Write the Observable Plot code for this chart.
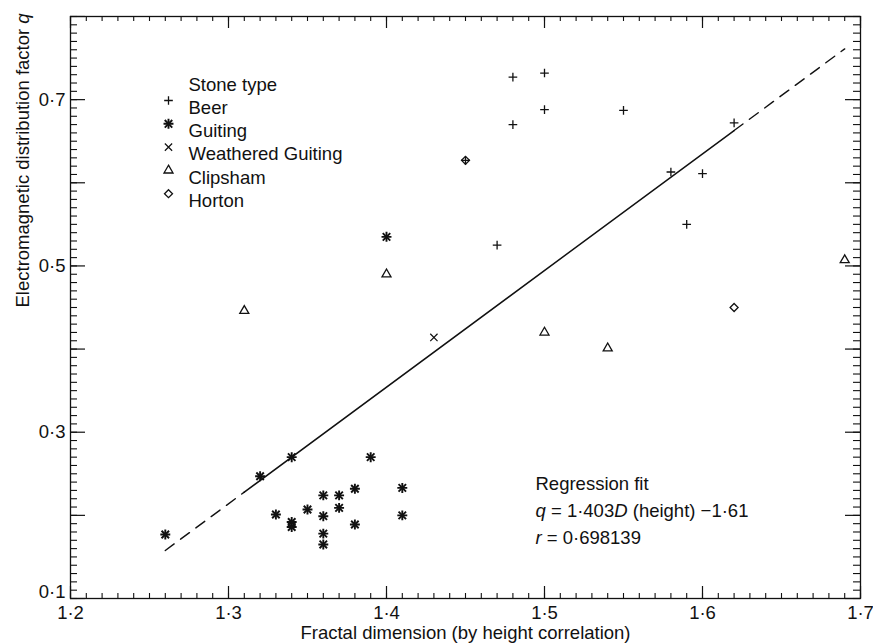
<!DOCTYPE html>
<html><head><meta charset="utf-8">
<script src="https://cdn.jsdelivr.net/npm/d3@7"></script>
<script src="https://cdn.jsdelivr.net/npm/@observablehq/plot@0.6"></script>
<style>body{margin:0;background:#fff} svg{display:block}</style>
</head><body><div id="chart"></div>
<script>
// ---- data ----
const beerD = [1.48, 1.50, 1.50, 1.48, 1.55, 1.45, 1.47, 1.58, 1.60, 1.59, 1.62];
const beerQ = [0.727, 0.732, 0.688, 0.670, 0.687, 0.627, 0.525, 0.613, 0.611, 0.550, 0.672];
const guitingD = [1.26, 1.32, 1.34, 1.33, 1.34, 1.34, 1.35, 1.36, 1.36, 1.36, 1.36, 1.37, 1.37, 1.38, 1.38, 1.39, 1.41, 1.41, 1.40];
const guitingQ = [0.177, 0.247, 0.270, 0.201, 0.192, 0.186, 0.207, 0.224, 0.199, 0.178, 0.165, 0.224, 0.209, 0.232, 0.189, 0.270, 0.233, 0.200, 0.535];
const weatheredD = [1.43];
const weatheredQ = [0.414];
const clipshamD = [1.31, 1.40, 1.50, 1.54, 1.69];
const clipshamQ = [0.446, 0.490, 0.420, 0.401, 0.507];
const hortonD = [1.45, 1.62];
const hortonQ = [0.627, 0.450];

const xTickLabels = [1.2, 1.3, 1.4, 1.5, 1.6, 1.7];
const yTickLabels = [0.1, 0.3, 0.5, 0.7];
const legendTitle = "Stone type";
const legendLabels = ["Beer", "Guiting", "Weathered Guiting", "Clipsham", "Horton"];
const regressionText = ["Regression fit", "q = 1·403D (height) −1·61", "r = 0·698139"];
const xLabel = "Fractal dimension (by height correlation)";
const yLabel = "Electromagnetic distribution factor q";

// regression fit q = 1.403 D - 1.61
const slope = 1.403, intercept = -1.61;
const fitDashedLow = [1.26, 1.31];
const fitSolid = [1.31, 1.62];
const fitDashedHigh = [1.62, 1.69];

// ---- layout ----
const W = 873, H = 643, mL = 70, mR = 13, mT = 16, mB = 45;
const pw = W - mL - mR, ph = H - mT - mB;
const ink = "#111";
const fmt = d => d.toFixed(1).replace(".", "·");
const minorX = d3.range(120, 171).map(i => i / 100);
const majorX = d3.range(12, 18).map(i => i / 10);
const minorY = d3.range(10, 81).map(i => i / 100);
const majorY = d3.range(1, 9).map(i => i / 10);

const rows = (D, Q) => D.map((d, i) => ({D: d, q: Q[i]}));
const beer = rows(beerD, beerQ);
const guiting = rows(guitingD, guitingQ);
const weathered = rows(weatheredD, weatheredQ);
const clipsham = rows(clipshamD, clipshamQ);
const horton = rows(hortonD, hortonQ);
const fitY = d => slope * d + intercept;

const sym = {
  Beer: [{symbol: "plus", r: 2.9, strokeWidth: 1.3}],
  Guiting: [{symbol: "plus", r: 3.3, strokeWidth: 1.9}, {symbol: "times", r: 3.5, strokeWidth: 1.9}],
  "Weathered Guiting": [{symbol: "times", r: 3.4, strokeWidth: 1.2}],
  Clipsham: [{symbol: "triangle2", r: 4.3, strokeWidth: 1.3}],
  Horton: [{symbol: "diamond2", r: 3.6, strokeWidth: 1.3}]
};
const seriesData = {Beer: beer, Guiting: guiting, "Weathered Guiting": weathered, Clipsham: clipsham, Horton: horton};

const marks = [];
// ticks (inward on all four sides)
marks.push(Plot.tickX(minorX, {x: d => d, insetTop: ph - 5, stroke: ink, strokeWidth: 1.1}));
marks.push(Plot.tickX(majorX, {x: d => d, insetTop: ph - 12, stroke: ink, strokeWidth: 1.2}));
marks.push(Plot.tickX(minorX, {x: d => d, insetBottom: ph - 5, stroke: ink, strokeWidth: 1.1}));
marks.push(Plot.tickX(majorX, {x: d => d, insetBottom: ph - 12, stroke: ink, strokeWidth: 1.2}));
marks.push(Plot.tickY(minorY, {y: d => d, insetRight: pw - 7, stroke: ink, strokeWidth: 1.1}));
marks.push(Plot.tickY(majorY, {y: d => d, insetRight: pw - 15, stroke: ink, strokeWidth: 1.2}));
marks.push(Plot.tickY(minorY, {y: d => d, insetLeft: pw - 7, stroke: ink, strokeWidth: 1.1}));
marks.push(Plot.tickY(majorY, {y: d => d, insetLeft: pw - 15, stroke: ink, strokeWidth: 1.2}));
marks.push(Plot.frame({stroke: ink, strokeWidth: 1.3}));
marks.push(Plot.axisX(xTickLabels, {tickSize: 0, tickPadding: 7, tickFormat: fmt, label: null, fill: ink}));
// the lowest y label sits slightly above the corner, as in the reference
marks.push(Plot.axisY(yTickLabels.slice(0, 1), {tickSize: 0, tickPadding: 5, tickFormat: fmt, label: null, fill: ink, dy: -6}));
marks.push(Plot.axisY(yTickLabels.slice(1), {tickSize: 0, tickPadding: 5, tickFormat: fmt, label: null, fill: ink}));

// regression line
marks.push(Plot.line(fitDashedLow, {x: d => d, y: fitY, stroke: ink, strokeWidth: 1.4, strokeDasharray: "11,8"}));
marks.push(Plot.line(fitSolid, {x: d => d, y: fitY, stroke: ink, strokeWidth: 1.5}));
marks.push(Plot.line(fitDashedHigh, {x: d => d, y: fitY, stroke: ink, strokeWidth: 1.4, strokeDasharray: "11,8"}));

// points
for (const name of legendLabels) {
  for (const s of sym[name]) {
    marks.push(Plot.dot(seriesData[name], {x: "D", y: "q", symbol: s.symbol, r: s.r, stroke: ink, strokeWidth: s.strokeWidth, fill: "none"}));
  }
}

// legend
marks.push(Plot.text([legendTitle], {frameAnchor: "top-left", dx: 118, dy: 61, text: d => d, textAnchor: "start", fill: ink}));
legendLabels.forEach((name, i) => {
  for (const s of sym[name]) {
    marks.push(Plot.dot([name], {frameAnchor: "top-left", dx: 98, dy: 84 + i * 23.3, symbol: s.symbol, r: s.r, stroke: ink, strokeWidth: s.strokeWidth, fill: "none"}));
  }
  marks.push(Plot.text([name], {frameAnchor: "top-left", dx: 118, dy: 84 + i * 23.3, text: d => d, textAnchor: "start", fill: ink}));
});

// regression annotation
regressionText.forEach((t, i) => {
  marks.push(Plot.text([t], {frameAnchor: "top-left", dx: 465, dy: 460 + i * 27, text: d => d, textAnchor: "start", fill: ink}));
});

// axis titles
marks.push(Plot.text([xLabel], {frameAnchor: "bottom", dy: 40, text: d => d, fill: ink}));
marks.push(Plot.text([yLabel], {frameAnchor: "left", dx: -47, rotate: -90, text: d => d, fill: ink}));

const chart = Plot.plot({
  width: W, height: H,
  marginLeft: mL, marginRight: mR, marginTop: mT, marginBottom: mB,
  x: {domain: [1.2, 1.7]},
  y: {domain: [0.1, 0.8]},
  style: {fontFamily: "'Liberation Sans', Arial, Helvetica, sans-serif", fontSize: "18.5px", background: "#fff", color: ink},
  marks
});

// italic variables in the texts
const italicize = (el, parts) => {
  el.textContent = "";
  for (const [s, it] of parts) {
    const t = document.createElementNS("http://www.w3.org/2000/svg", "tspan");
    t.textContent = s;
    if (it) t.setAttribute("font-style", "italic");
    el.appendChild(t);
  }
};
chart.querySelectorAll("text").forEach(el => {
  const s = el.textContent;
  if (s === regressionText[1]) italicize(el, [["q", 1], [" = 1·403", 0], ["D", 1], [" (height) −1·61", 0]]);
  else if (s === regressionText[2]) italicize(el, [["r", 1], [" = 0·698139", 0]]);
  else if (s === yLabel) italicize(el, [["Electromagnetic distribution factor ", 0], ["q", 1]]);
});

document.getElementById("chart").appendChild(chart);
</script>
</body></html>
